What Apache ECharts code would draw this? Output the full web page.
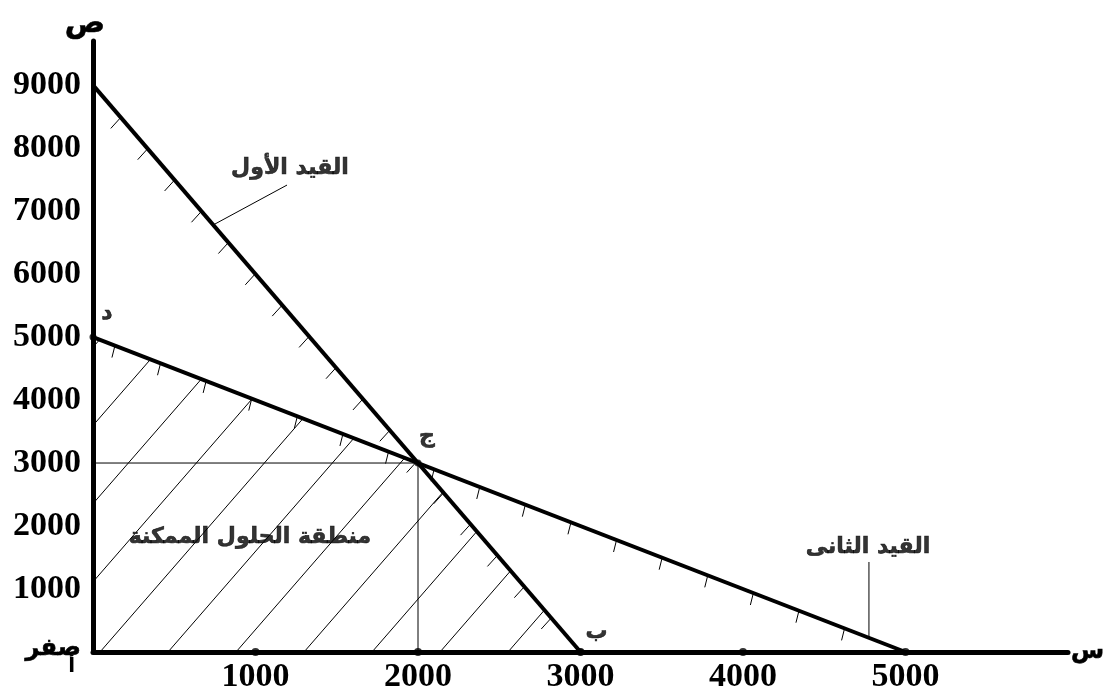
<!DOCTYPE html>
<html><head><meta charset="utf-8">
<script src="https://cdn.jsdelivr.net/npm/echarts@6/dist/echarts.min.js"></script>
<style>html,body{margin:0;padding:0;background:#fff}#c{width:1105px;height:695px}</style>
</head><body><div id="c"></div>
<script>
// ---- data ----
const xTicks = [1000, 2000, 3000, 4000, 5000];
const constraint1 = [[0, 9000], [3000, 0]];          // القيد الأول
const constraint2 = [[0, 5000], [5000, 0]];          // القيد الثانى
const guide = [[0, 3000], [2000, 3000], [2000, 0]];  // projections of ج
const feasible = [[0, 0], [3000, 0], [2000, 3000], [0, 5000]];
const pointNames = ['د', 'ج', 'ب'];
const pointValues = [[0, 5000], [2000, 3000], [3000, 0]];
const textNames = ['القيد الأول', 'القيد الثانى', 'منطقة الحلول الممكنة'];
const textValues = [[1212, 7683], [4769, 1667], [966, 1825]];
const leader1 = [[740, 6780], [1194, 7413]];
const leader2 = [[4775, 1429], [4775, 225]];

const NUM_FONT = 'Liberation Serif';
const AR_FONT = 'DejaVu Sans';

function clip(p0, d, poly) {
  const ts = [];
  for (let i = 0; i < poly.length; i++) {
    const a = poly[i], b = poly[(i + 1) % poly.length];
    const e = [b[0] - a[0], b[1] - a[1]];
    const den = d[0] * e[1] - d[1] * e[0];
    if (Math.abs(den) < 1e-9) continue;
    const w = [a[0] - p0[0], a[1] - p0[1]];
    const t = (w[0] * e[1] - w[1] * e[0]) / den;
    const u = (w[0] * d[1] - w[1] * d[0]) / den;
    if (u >= -1e-9 && u <= 1 + 1e-9) ts.push(t);
  }
  if (ts.length < 2) return null;
  const t0 = Math.min(...ts), t1 = Math.max(...ts);
  if (t1 - t0 < 1e-3) return null;
  return [[p0[0] + t0 * d[0], p0[1] + t0 * d[1]], [p0[0] + t1 * d[0], p0[1] + t1 * d[1]]];
}

function renderDecor(params, api) {
  const children = [];
  const poly = feasible.map(p => api.coord(p));
  const base = api.coord([0, 0]);
  const m = 1.15, step = 68;
  for (let k = -15; k < 20; k++) {
    const x0 = base[0] + 7 + k * step;
    const seg = clip([x0, base[1]], [1, -m], poly);
    if (seg) children.push({type: 'line', shape: {x1: seg[0][0], y1: seg[0][1], x2: seg[1][0], y2: seg[1][1]},
      style: {stroke: '#000', lineWidth: 1}});
  }
  function marks(line, t0, t1, n, v) {
    const a = api.coord(line[0]), b = api.coord(line[1]);
    for (let k = 0; k < n; k++) {
      const t = t0 + k * (t1 - t0) / (n - 1);
      const px = a[0] + t * (b[0] - a[0]), py = a[1] + t * (b[1] - a[1]);
      children.push({type: 'line', shape: {x1: px, y1: py, x2: px + v[0], y2: py + v[1]},
        style: {stroke: '#000', lineWidth: 1}});
    }
  }
  marks(constraint1, 0.057, 0.94, 17, [-10, 11]);
  marks(constraint2, 0.027, 0.925, 17, [-3, 12]);
  return {type: 'group', children};
}

const arText = {color: '#000', fontFamily: AR_FONT, fontWeight: 'bold', textBorderColor: '#000', textBorderWidth: 0.6};

const chart = echarts.init(document.getElementById('c'), null, {renderer: 'canvas'});
chart.setOption({
  backgroundColor: '#fff',
  animation: false,
  grid: {left: 93, top: 41, width: 975, height: 611, containLabel: false, outerBoundsMode: 'none'},
  xAxis: {
    type: 'value', min: 0, max: 6000, interval: 1000,
    axisLine: {show: true, onZero: false, lineStyle: {color: '#000', width: 5, cap: 'round'}},
    axisTick: {show: false}, splitLine: {show: false},
    axisLabel: {margin: 8, color: '#000', fontFamily: NUM_FONT, fontWeight: 'bold', fontSize: 34,
      formatter: v => (v > 0 && v <= 5000) ? String(v) : ''},
    name: 'س', nameLocation: 'end', nameGap: 3,
    nameTextStyle: Object.assign({}, arText, {fontSize: 24, verticalAlign: 'middle', align: 'left', padding: [0, 0, 6, 0]})
  },
  yAxis: {
    type: 'value', min: 0, max: 9700, interval: 1000,
    axisLine: {show: true, onZero: false, lineStyle: {color: '#000', width: 5, cap: 'round'}},
    axisTick: {show: false}, splitLine: {show: false},
    axisLabel: {margin: 12, color: '#000', fontFamily: NUM_FONT, fontWeight: 'bold', fontSize: 34,
      formatter: v => v === 0 ? '{a|صفر}\n{b|أ}' : (v <= 9000 ? String(v) : ''),
      rich: {
        a: Object.assign({}, arText, {fontSize: 24, align: 'right', lineHeight: 30, padding: [20, 0, 0, 0]}),
        b: {fontFamily: AR_FONT, fontSize: 20, color: '#000', align: 'right', padding: [0, 6, 0, 0], lineHeight: 26}
      }},
    name: 'ص', nameLocation: 'end', nameGap: 2,
    nameTextStyle: Object.assign({}, arText, {fontSize: 30, padding: [0, 16, 0, 0]})
  },
  series: [
    {type: 'custom', renderItem: renderDecor, data: [[0, 0]], silent: true, z: 1, clip: false},
    {type: 'line', data: guide, symbol: 'none', lineStyle: {color: '#000', width: 1}, z: 2},
    {type: 'line', data: constraint1, symbol: 'none', lineStyle: {color: '#000', width: 4}, z: 3},
    {type: 'line', data: constraint2, symbol: 'none', lineStyle: {color: '#000', width: 4}, z: 3},
    {type: 'line', data: leader1, symbol: 'none', lineStyle: {color: '#000', width: 1}, z: 2},
    {type: 'line', data: leader2, symbol: 'none', lineStyle: {color: '#000', width: 1}, z: 2},
    {type: 'scatter', data: xTicks.map(v => [v, 0]), symbolSize: 8, itemStyle: {color: '#000'}, z: 4},
    {type: 'scatter', symbolSize: 7, itemStyle: {color: '#000'}, z: 4,
      data: pointValues.map((p, i) => ({value: [p[0], p[1], pointNames[i]],
        label: {offset: [[14, -24], [9, -27], [16, -20]][i]}})),
      label: Object.assign({show: true, position: 'inside', formatter: p => p.data.value[2], fontSize: 22}, arText)},
    {type: 'scatter', symbolSize: 0, z: 5,
      data: textValues.map((p, i) => [p[0], p[1], textNames[i]]),
      label: Object.assign({show: true, position: 'inside', formatter: p => p.data[2], fontSize: 22}, arText)}
  ]
});
</script></body></html>
